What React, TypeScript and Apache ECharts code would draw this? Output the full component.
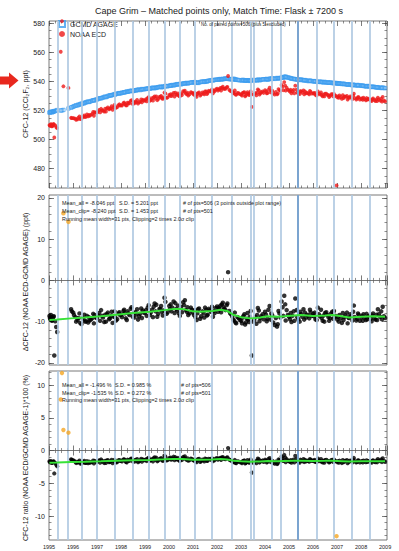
import React, { useEffect, useRef } from "react";
import * as echarts from "echarts";

// ---------- data ----------
const yearTicks = [1995, 1996, 1997, 1998, 1999, 2000, 2001, 2002, 2003, 2004, 2005, 2006, 2007, 2008, 2009];

const timesA = [
  1995.02, 1995.06, 1995.10, 1995.14, 1995.18, 1995.22, 1995.30, 1995.34,
  1995.92, 1996.01, 1996.10, 1996.19, 1996.30, 1996.39, 1996.50, 1996.58, 1996.69, 1996.80, 1996.90,
  1997.00, 1997.09, 1997.21, 1997.30, 1997.41, 1997.50, 1997.61, 1997.70, 1997.79, 1997.90,
  1998.01, 1998.10, 1998.20, 1998.31, 1998.40, 1998.49, 1998.60, 1998.71, 1998.80, 1998.91,
  1999.00, 1999.11, 1999.20, 1999.29, 1999.40, 1999.51, 1999.60, 1999.70, 1999.81, 1999.90,
  2000.01, 2000.10, 2000.19, 2000.30, 2000.41, 2000.50, 2000.59, 2000.70, 2000.80, 2000.91,
  2001.00, 2001.10, 2001.21, 2001.30, 2001.39, 2001.50, 2001.61, 2001.70, 2001.79, 2001.90,
  2002.00, 2002.10, 2002.20, 2002.31, 2002.40, 2002.46, 2002.51, 2002.60, 2002.70, 2002.80, 2002.90,
  2003.01, 2003.10, 2003.20, 2003.30, 2003.40, 2003.45, 2003.50, 2003.60, 2003.70, 2003.80, 2003.90,
  2004.00, 2004.10, 2004.19, 2004.30, 2004.40, 2004.50, 2004.60, 2004.69, 2004.80, 2004.90,
  2005.00, 2005.10, 2005.19, 2005.26, 2005.39, 2005.50, 2005.60, 2005.70, 2005.80, 2005.90,
  2006.01, 2006.10, 2006.20, 2006.29, 2006.40, 2006.50, 2006.60, 2006.71, 2006.80, 2006.90,
  2007.01, 2007.10, 2007.20, 2007.30, 2007.41, 2007.50, 2007.60, 2007.70, 2007.80, 2007.90,
  2008.01, 2008.10, 2008.20, 2008.30, 2008.40, 2008.50, 2008.60, 2008.70, 2008.80, 2008.90, 2009.00,
];
// GCMD AGAGE (ppt)
const agageA = [
  518.6, 518.9, 519.2, 518.8, 519.4, 519.6, 519.9, 520.3,
  522.0, 522.6, 523.3, 523.5, 524.4, 524.6, 525.4, 525.9, 526.0, 526.8, 527.2,
  527.6, 528.3, 528.7, 529.3, 529.5, 530.2, 530.6, 530.9, 531.5, 531.7,
  532.0, 532.4, 532.8, 533.0, 533.5, 533.3, 533.9, 534.2, 534.1, 534.7,
  534.8, 535.1, 535.0, 535.6, 535.4, 535.9, 536.3, 536.0, 536.6, 536.8,
  537.0, 537.4, 537.3, 537.9, 538.1, 538.0, 538.6, 538.9, 538.7, 539.2,
  539.5, 539.2, 539.0, 539.6, 540.0, 539.8, 540.4, 540.6, 540.9, 541.1,
  541.3, 541.6, 541.4, 541.9, 542.0, 541.8, 541.7, 541.5, 541.9, 541.3, 541.0,
  540.8, 541.0, 540.6, 540.9, 540.5, 540.7, 541.1, 540.8, 541.3, 541.0, 541.4,
  541.6, 541.3, 541.9, 542.2, 541.8, 542.4, 542.1, 542.7, 543.3, 542.9,
  542.6, 542.0, 541.8, 541.5, 541.2, 541.4, 540.9, 540.8, 540.3, 540.5,
  540.1, 540.2, 539.7, 539.9, 539.5, 539.6, 539.2, 539.3, 538.9, 539.0,
  538.6, 538.8, 538.3, 538.4, 537.9, 538.0, 537.6, 537.7, 537.3, 537.5,
  537.1, 537.0, 536.6, 536.8, 536.3, 536.4, 536.0, 535.9, 535.6, 535.8, 535.4,
];
// NOAA ECD - GCMD AGAGE (ppt)
const diffA = [
  -8.6, -9.4, -8.9, -9.6, -8.8, -18.2, -11.3, -12.5,
  -7.0, -7.8, -8.9, -9.6, -10.3, -9.1, -10.0, -8.6, -9.7, -9.2, -8.4,
  -9.1, -7.9, -8.6, -10.1, -8.2, -9.4, -7.6, -8.8, -9.7, -8.0,
  -8.3, -7.4, -9.2, -8.0, -6.9, -8.8, -7.7, -9.5, -8.1, -7.3,
  -7.9, -6.6, -8.4, -7.1, -5.6, -8.8, -6.9, -7.6, -4.2, -8.1,
  -6.2, -7.5, -5.1, -6.9, -8.0, -6.4, -5.3, -7.2, -8.4, -6.6,
  -7.8, -8.9, -7.0, -9.3, -7.5, -6.6, -8.3, -7.2, -6.4, -7.9,
  -6.3, -7.0, -5.8, -6.9, -6.0, 2.0, -7.4, -8.3, -9.7, -10.4, -9.1,
  -9.8, -8.6, -10.2, -9.5, -7.4, -18.2, -10.0, -8.9, -6.7, -9.1, -8.2,
  -7.6, -9.3, -6.2, -8.5, -10.8, -11.2, -8.0, -5.1, -3.7, -7.2,
  -8.8, -10.1, -7.5, -4.4, -9.4, -8.2, -7.0, -9.0, -8.5, -7.7,
  -8.1, -9.4, -6.6, -8.7, -9.8, -7.9, -8.4, -9.2, -7.6, -8.9,
  -9.5, -8.4, -10.3, -8.9, -7.8, -9.1, -8.6, -6.1, -9.7, -8.3,
  -9.0, -8.2, -9.6, -8.7, -9.3, -8.0, -9.5, -7.0, -8.8, -6.4, -9.1,
];

const timesB = [
  1995.04, 1995.08, 1995.12, 1995.16, 1995.20, 1995.26,
  1995.95, 1996.04, 1996.13, 1996.22, 1996.27, 1996.35, 1996.44, 1996.47, 1996.55, 1996.63, 1996.66, 1996.74, 1996.84, 1996.87, 1996.95,
  1997.04, 1997.13, 1997.17, 1997.25, 1997.34, 1997.37, 1997.45, 1997.54, 1997.57, 1997.65, 1997.73, 1997.76, 1997.84, 1997.93, 1997.96,
  1998.04, 1998.13, 1998.16, 1998.24, 1998.27, 1998.35, 1998.44, 1998.53, 1998.56, 1998.64, 1998.67, 1998.75, 1998.84, 1998.87, 1998.95,
  1999.04, 1999.07, 1999.15, 1999.24, 1999.33, 1999.36, 1999.44, 1999.47, 1999.55, 1999.64, 1999.67, 1999.74, 1999.77, 1999.85, 1999.94,
  2000.04, 2000.07, 2000.14, 2000.23, 2000.26, 2000.34, 2000.37, 2000.45, 2000.54, 2000.63, 2000.66, 2000.74, 2000.77, 2000.85, 2000.95,
  2001.04, 2001.07, 2001.15, 2001.18, 2001.25, 2001.34, 2001.44, 2001.47, 2001.55, 2001.58, 2001.65, 2001.74, 2001.83, 2001.86, 2001.95,
  2002.04, 2002.07, 2002.14, 2002.17, 2002.24, 2002.27, 2002.35, 2002.43, 2002.55, 2002.64, 2002.67, 2002.74, 2002.77, 2002.85, 2002.95,
  2003.04, 2003.07, 2003.14, 2003.17, 2003.24, 2003.27, 2003.34, 2003.37, 2003.55, 2003.64, 2003.67, 2003.74, 2003.77, 2003.84, 2003.94,
  2004.04, 2004.07, 2004.14, 2004.23, 2004.26, 2004.34, 2004.45, 2004.53, 2004.56, 2004.64, 2004.73, 2004.76, 2004.84, 2004.86, 2004.95,
  2005.04, 2005.07, 2005.14, 2005.22, 2005.31, 2005.34, 2005.44, 2005.47, 2005.55, 2005.63, 2005.66, 2005.74, 2005.84, 2005.87, 2005.95,
  2006.04, 2006.07, 2006.15, 2006.24, 2006.33, 2006.36, 2006.44, 2006.47, 2006.55, 2006.64, 2006.67, 2006.75, 2006.84, 2006.87, 2006.94,
  2007.04, 2007.07, 2007.15, 2007.24, 2007.27, 2007.35, 2007.44, 2007.47, 2007.55, 2007.64, 2007.67, 2007.74, 2007.84, 2007.87, 2007.95,
  2008.04, 2008.07, 2008.14, 2008.23, 2008.26, 2008.34, 2008.44, 2008.47, 2008.55, 2008.64, 2008.67, 2008.74, 2008.84, 2008.87, 2008.95,
];
const agageB = [
  518.7, 519.0, 518.9, 519.1, 519.3, 519.7,
  522.3, 523.0, 523.6, 524.1, 524.0, 524.8, 525.2, 525.0, 525.7, 526.2, 525.9, 526.5, 527.1, 526.8, 527.5,
  528.0, 528.5, 528.4, 529.0, 529.6, 529.2, 530.0, 530.5, 530.3, 530.8, 531.3, 531.0, 531.7, 532.0, 531.8,
  532.3, 532.6, 532.5, 533.1, 532.9, 533.4, 533.7, 533.6, 534.0, 533.8, 534.3, 534.5, 534.4, 534.8, 534.6,
  535.0, 534.9, 535.3, 535.2, 535.7, 535.5, 535.8, 535.6, 536.1, 536.4, 536.2, 536.5, 536.3, 536.9, 536.7,
  537.2, 537.1, 537.6, 537.5, 537.8, 538.2, 537.9, 538.3, 538.4, 538.8, 538.5, 539.0, 538.8, 539.1, 539.4,
  539.3, 539.6, 539.1, 539.4, 539.3, 539.8, 539.7, 540.1, 540.2, 539.9, 540.5, 540.8, 540.7, 541.0, 541.2,
  541.4, 541.2, 541.7, 541.5, 541.8, 541.6, 542.1, 541.9, 541.6, 541.7, 541.4, 541.6, 541.2, 541.1, 540.9,
  540.7, 541.1, 540.8, 540.5, 540.9, 540.6, 540.8, 540.4, 540.9, 541.0, 540.7, 541.2, 540.9, 541.3, 541.5,
  541.5, 541.8, 541.4, 542.0, 541.7, 542.1, 542.0, 542.3, 542.2, 542.5, 542.9, 542.6, 543.0, 543.4, 542.8,
  542.4, 542.2, 541.9, 541.7, 541.6, 541.3, 541.3, 541.0, 541.1, 540.7, 541.0, 540.6, 540.4, 540.6, 540.2,
  540.3, 540.0, 539.9, 539.8, 539.6, 539.8, 539.4, 539.7, 539.3, 539.4, 539.1, 539.2, 539.1, 538.8, 538.9,
  538.5, 538.7, 538.4, 538.5, 538.2, 538.1, 538.0, 537.8, 537.9, 537.5, 537.8, 537.4, 537.6, 537.2, 537.3,
  537.0, 537.2, 536.8, 536.7, 536.9, 536.5, 536.4, 536.2, 536.3, 535.9, 536.1, 535.8, 535.7, 535.5, 535.6,
];
const diffB = [
  -9.1, -8.4, -9.8, -9.2, -8.7, -9.9,
  -7.5, -8.4, -10.0, -9.1, -8.0, -10.6, -9.4, -8.3, -9.9, -10.2, -8.9, -9.5, -8.1, -10.4, -9.0,
  -8.5, -9.8, -7.2, -9.0, -8.3, -10.0, -7.8, -9.2, -8.7, -10.3, -7.5, -8.9, -9.4, -7.7, -8.4,
  -8.9, -7.1, -8.0, -9.6, -7.5, -8.4, -6.5, -7.9, -9.0, -8.2, -7.0, -8.7, -6.8, -9.1, -7.8,
  -7.2, -8.6, -6.0, -7.8, -8.9, -6.4, -7.5, -5.9, -8.1, -7.0, -6.2, -8.5, -7.3, -5.2, -7.7,
  -7.0, -5.8, -6.6, -7.9, -5.5, -7.3, -6.1, -8.6, -7.7, -6.0, -4.8, -7.6, -6.5, -8.0, -7.1,
  -8.4, -7.2, -9.6, -8.0, -6.8, -8.7, -7.9, -9.0, -7.1, -8.5, -6.9, -7.6, -8.8, -7.4, -6.7,
  -7.6, -6.6, -6.1, -7.7, -5.4, -6.5, -7.2, -5.6, -8.0, -8.8, -9.5, -7.8, -10.2, -8.9, -9.6,
  -10.4, -9.0, -8.2, -10.7, -9.3, -7.9, -10.1, -8.8, -9.6, -10.5, -8.4, -7.3, -9.9, -8.7, -9.4,
  -8.3, -9.9, -7.1, -9.5, -8.0, -10.2, -9.1, -10.6, -7.4, -9.0, -6.5, -8.6, -5.8, -9.7, -8.4,
  -9.4, -7.9, -8.6, -9.8, -7.2, -8.9, -10.0, -7.6, -8.8, -9.5, -7.8, -8.3, -9.2, -7.1, -8.6,
  -8.7, -7.8, -9.6, -8.2, -7.1, -9.1, -8.5, -10.0, -7.7, -8.9, -9.8, -8.0, -9.3, -7.4, -8.6,
  -8.8, -10.0, -9.2, -7.9, -9.6, -8.5, -10.4, -9.0, -8.2, -9.7, -7.6, -8.9, -9.3, -8.0, -9.8,
  -8.6, -9.8, -9.0, -8.1, -9.4, -8.8, -9.9, -8.5, -9.2, -8.3, -9.6, -8.2, -7.5, -9.4, -8.7,
];

// clipped (excluded) pairs
const clipTimes = [1995.49, 1995.54, 1995.60, 1995.81, 2006.98];
const clipAgage = [520.0, 520.1, 520.4, 521.4, 538.9];
const clipDiff = [40.5, 61.5, 16.3, 14.2, -70.5];

// running means (green)
const runTimes = [
  1995.02, 1995.35, 1995.92, 1996.5, 1997.16, 1997.8, 1998.5, 1999.2, 1999.8, 2000.2,
  2000.55, 2001.0, 2001.3, 2001.8, 2002.15, 2002.42, 2002.7, 2003.0, 2003.4, 2003.8,
  2004.1, 2004.5, 2004.8, 2005.2, 2005.5, 2006.0, 2006.5, 2006.8, 2007.2, 2007.5,
  2008.0, 2008.5, 2009.0,
];
const runDiff = [
  -9.6, -9.5, -9.2, -9.0, -8.7, -8.3, -7.9, -7.6, -7.2, -6.9,
  -6.9, -7.5, -7.6, -7.4, -7.1, -7.4, -8.4, -8.9, -9.2, -9.0,
  -8.7, -8.8, -8.7, -8.5, -8.4, -8.6, -8.5, -8.4, -8.7, -9.0,
  -8.8, -8.7, -8.8,
];
const runRatio = [
  -1.85, -1.83, -1.76, -1.71, -1.65, -1.57, -1.49, -1.43, -1.35, -1.29,
  -1.28, -1.40, -1.41, -1.37, -1.31, -1.36, -1.55, -1.64, -1.70, -1.66,
  -1.60, -1.62, -1.60, -1.57, -1.55, -1.59, -1.58, -1.56, -1.62, -1.67,
  -1.64, -1.62, -1.64,
];

// vertical event lines
const eventLines = [
  1995.375, 1995.8, 1996.36, 1996.99, 1997.75, 1998.47, 1999.14, 1999.83, 2000.46, 2001.08,
  2001.78, 2002.61, 2003.42, 2003.54, 2004.29, 2004.67, 2005.375, 2006.17, 2006.875, 2007.625, 2008.375,
];
const darkEvents = [2005.375];

const yTickLabels = [
  [480, 500, 520, 540, 560, 580],
  [-20, -10, 0, 10, 20],
  [-10, -5, 0, 5, 10],
];

const TITLE = "Cape Grim – Matched points only, Match Time: Flask ± 7200 s";
const PAIRED = "No. of paired points=506 (plus 5 excluded)";
const statsPpt = [
  ["Mean_all = -8.046 ppt", "S.D. = 5.201 ppt", "# of pts=506 (3 points outside plot range)"],
  ["Mean_clip= -8.240 ppt", "S.D. = 1.453 ppt", "# of pts=501"],
  ["Running mean width=31 pts, Clipping=2 times 2.0σ clip", "", ""],
];
const statsPct = [
  ["Mean_all = -1.496 %", "S.D. = 0.985 %", "# of pts=506"],
  ["Mean_clip= -1.535 %", "S.D. = 0.272 %", "# of pts=501"],
  ["Running mean width=31 pts, Clipping=2 times 2.0σ clip", "", ""],
];

// ---------- layout ----------
const FONT = "'Liberation Sans', Arial, Helvetica, sans-serif";
const grids = [
  { left: 49, top: 21, width: 338, height: 167 },
  { left: 49, top: 195, width: 338, height: 170 },
  { left: 49, top: 371, width: 338, height: 169 },
];
const yRanges = [
  [466.6, 581.7],
  [-20.5, 20.7],
  [-13.66, 12.14],
];
const yMinorStep = [5, 2, 1];
const X_MIN = yearTicks[0];
const X_MAX = 2009.08;

function minorValues(g: number) {
  const [lo, hi] = yRanges[g];
  const step = yMinorStep[g];
  const out: number[] = [];
  for (let v = Math.ceil(lo / step) * step; v <= hi; v += step) out.push(+v.toFixed(3));
  return out;
}

function buildOption() {
  const tickColor = "#444";
  const xAxes: any[] = [];
  const yAxes: any[] = [];
  grids.forEach((_, g) => {
    ["bottom", "top"].forEach((pos) => {
      xAxes.push({
        type: "value",
        gridIndex: g,
        position: pos,
        min: X_MIN,
        max: X_MAX,
        interval: 1,
        axisLine: { show: false },
        axisTick: { show: true, inside: true, length: 5, lineStyle: { color: tickColor, width: 0.7 } },
        minorTick: { show: true, splitNumber: 4, length: 2.5, lineStyle: { color: tickColor, width: 0.6 } },
        axisLabel: {
          show: g === 2 && pos === "bottom",
          fontSize: 5.5,
          color: "#222",
          fontFamily: FONT,
          margin: 4,
          formatter: (v: number) => String(Math.round(v)),
        },
        splitLine: { show: false },
        minorSplitLine: { show: false },
      });
    });
    const minors = minorValues(g);
    ["left", "right"].forEach((pos) => {
      yAxes.push({
        type: "value",
        gridIndex: g,
        position: pos,
        min: yRanges[g][0],
        max: yRanges[g][1],
        axisLine: { show: false },
        axisTick: { show: true, inside: true, length: 5, customValues: yTickLabels[g], lineStyle: { color: tickColor, width: 0.7 } },
        axisLabel: {
          show: pos === "left",
          customValues: yTickLabels[g],
          fontSize: 7,
          color: "#222",
          fontFamily: FONT,
          margin: 4,
        },
        splitLine: { show: false },
      });
      yAxes.push({
        type: "value",
        gridIndex: g,
        position: pos,
        min: yRanges[g][0],
        max: yRanges[g][1],
        axisLine: { show: false },
        axisTick: { show: true, inside: true, length: 2.5, customValues: minors, lineStyle: { color: tickColor, width: 0.6 } },
        axisLabel: { show: false },
        splitLine: { show: false },
      });
    });
  });

  const lineSeries = (g: number, withZero: boolean) => ({
    type: "scatter",
    xAxisIndex: g * 2,
    yAxisIndex: g * 4,
    data: [],
    silent: true,
    z: 1,
    markLine: {
      silent: true,
      symbol: ["none", "none"],
      label: { show: false },
      animation: false,
      data: [
        ...eventLines.map((v) => ({
          xAxis: v,
          lineStyle: {
            color: darkEvents.includes(v) ? "#7ba4d0" : "#b0c9e2",
            width: darkEvents.includes(v) ? 2 : 1.7,
            type: "solid",
          },
        })),
        ...(withZero ? [{ yAxis: 0, lineStyle: { color: "#555", width: 0.8, type: "solid" } }] : []),
      ],
    },
  });

  const times = timesA.concat(timesB);
  const agage = agageA.concat(agageB);
  const diff = diffA.concat(diffB);

  const topAgage = times.map((t, i) => [t, agage[i]]).concat(clipTimes.map((t, i) => [t, clipAgage[i]]));
  const topNoaa = times
    .map((t, i) => [t, +(agage[i] + diff[i]).toFixed(2)])
    .concat(clipTimes.map((t, i) => [t, +(clipAgage[i] + clipDiff[i]).toFixed(2)]));
  const midBlack = times.map((t, i) => [t, diff[i]]);
  const midOrange = clipTimes.map((t, i) => [t, clipDiff[i]]);
  const botBlack = times.map((t, i) => [t, +((diff[i] / agage[i]) * 100).toFixed(3)]);
  const botOrange = clipTimes.map((t, i) => [t, +((clipDiff[i] / clipAgage[i]) * 100).toFixed(3)]);

  const series: any[] = [
    lineSeries(0, false),
    {
      name: "GCMD AGAGE",
      type: "scatter",
      xAxisIndex: 0,
      yAxisIndex: 0,
      symbol: "rect",
      symbolSize: 3.4,
      clip: true,
      z: 3,
      itemStyle: { color: "rgba(255,255,255,0)", borderColor: "#3d9ef0", borderWidth: 0.9 },
      data: topAgage,
    },
    {
      name: "NOAA ECD",
      type: "scatter",
      xAxisIndex: 0,
      yAxisIndex: 0,
      symbol: "circle",
      symbolSize: 3.8,
      clip: true,
      z: 4,
      itemStyle: { color: "#ee1a1a" },
      data: topNoaa,
    },
    lineSeries(1, true),
    {
      type: "scatter",
      xAxisIndex: 2,
      yAxisIndex: 4,
      symbolSize: 4.5,
      clip: true,
      z: 3,
      itemStyle: { color: "#000" },
      data: midBlack,
    },
    {
      type: "line",
      xAxisIndex: 2,
      yAxisIndex: 4,
      showSymbol: false,
      z: 5,
      lineStyle: { color: "#37e237", width: 2 },
      data: runTimes.map((t, i) => [t, runDiff[i]]),
    },
    {
      type: "scatter",
      xAxisIndex: 2,
      yAxisIndex: 4,
      symbolSize: 4.6,
      clip: true,
      z: 6,
      itemStyle: { color: "#f5a623" },
      data: midOrange,
    },
    lineSeries(2, true),
    {
      type: "scatter",
      xAxisIndex: 4,
      yAxisIndex: 8,
      symbolSize: 4.2,
      clip: true,
      z: 3,
      itemStyle: { color: "#000" },
      data: botBlack,
    },
    {
      type: "line",
      xAxisIndex: 4,
      yAxisIndex: 8,
      showSymbol: false,
      z: 5,
      lineStyle: { color: "#37e237", width: 2 },
      data: runTimes.map((t, i) => [t, runRatio[i]]),
    },
    {
      type: "scatter",
      xAxisIndex: 4,
      yAxisIndex: 8,
      symbolSize: 4.4,
      clip: true,
      z: 6,
      itemStyle: { color: "#f5a623" },
      data: botOrange,
    },
  ];

  const txt = (x: number, y: number, text: string, size: number, extra: any = {}) => ({
    type: "text",
    x,
    y,
    silent: true,
    z: 50,
    ...extra,
    style: {
      text,
      fontSize: size,
      fontFamily: FONT,
      fill: "#222",
      align: "left",
      verticalAlign: "middle",
      ...(extra.style || {}),
    },
  });

  const statCols = [62, 119, 183];
  const graphics: any[] = [
    txt(219, 11, TITLE, 9, { style: { align: "center" } }),
    txt(201, 24, PAIRED, 4.5),
    txt(25, 104, "CFC-12 (CCl₂F₂, ppt)", 7.2, { rotation: Math.PI / 2, style: { align: "center" } }),
    txt(25, 282, "ΔCFC-12 (NOAA ECD-GCMD AGAGE) (ppt)", 7, { rotation: Math.PI / 2, style: { align: "center" } }),
    txt(25, 458, "CFC-12 ratio (NOAA ECD/GCMD AGAGE-1)*100 (%)", 7, { rotation: Math.PI / 2, style: { align: "center" } }),
    {
      type: "polygon",
      silent: true,
      z: 50,
      shape: {
        points: [
          [0, 76.5],
          [9, 76.5],
          [9, 72.5],
          [18.5, 80.5],
          [9, 88.5],
          [9, 84.5],
          [0, 84.5],
        ],
      },
      style: { fill: "#e8281e" },
    },
  ];
  statsPpt.forEach((row, r) =>
    row.forEach((s, c) => {
      if (s) graphics.push(txt(statCols[c], 203 + r * 8, s, 5.4));
    })
  );
  statsPct.forEach((row, r) =>
    row.forEach((s, c) => {
      if (s) graphics.push(txt(statCols[c] - (c === 1 ? 4 : c === 2 ? 2 : 0), 385 + r * 7.5, s, 5.4));
    })
  );

  return {
    animation: false,
    backgroundColor: "#ffffff",
    grid: grids.map((g) => ({ ...g, show: true, borderColor: "#555", borderWidth: 0.8, backgroundColor: "rgba(0,0,0,0)" })),
    xAxis: xAxes,
    yAxis: yAxes,
    legend: {
      data: ["GCMD AGAGE", "NOAA ECD"],
      orient: "vertical",
      left: 58,
      top: 20,
      itemWidth: 6,
      itemHeight: 6,
      itemGap: 2.5,
      padding: 0,
      selectedMode: false,
      textStyle: { fontSize: 7, fontFamily: FONT, color: "#222" },
    },
    series,
    graphic: graphics,
  };
}

export default function App() {
  const ref = useRef<HTMLDivElement>(null);
  useEffect(() => {
    if (!ref.current) return;
    const chart = echarts.init(ref.current, null, { renderer: "svg" });
    chart.setOption(buildOption() as any);
    return () => chart.dispose();
  }, []);
  return (
    <div
      ref={ref}
      style={{ position: "fixed", left: 0, top: 0, width: 399, height: 551, background: "#fff" }}
    />
  );
}
